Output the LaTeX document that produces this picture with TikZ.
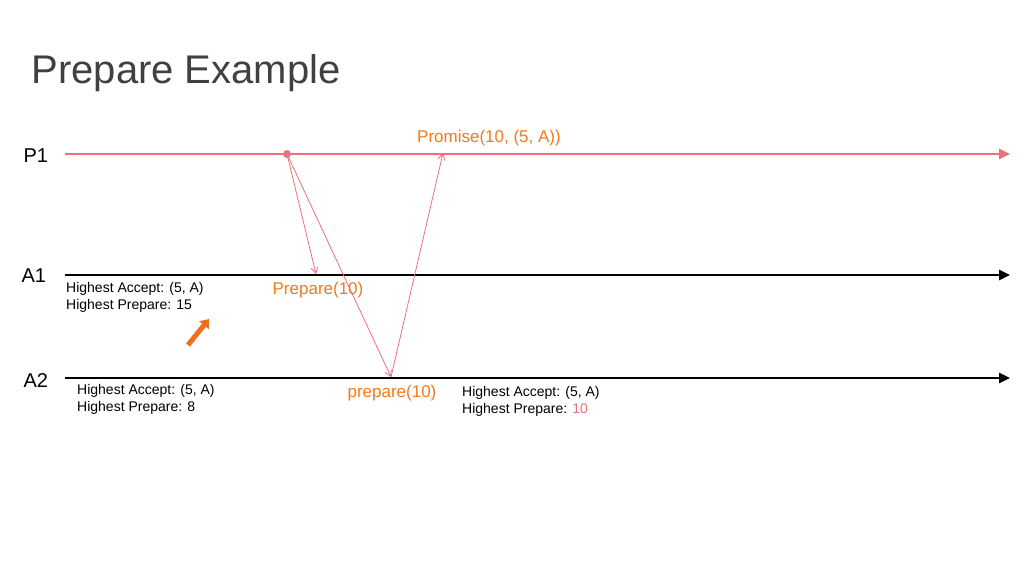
\documentclass[tikz,border=0pt]{standalone}
\usepackage{fontspec}
\setmainfont{Liberation Sans}
\usetikzlibrary{arrows.meta}
\definecolor{pinkline}{HTML}{EC6F7C}
\definecolor{orangetext}{HTML}{F07A1E}
\definecolor{titlegray}{HTML}{404040}
\begin{document}
\begin{tikzpicture}[x=1pt,y=-1pt,
    timeline/.style={line width=2.6pt,-{Triangle[length=11pt,width=10pt]}},
    msg/.style={pinkline,line width=0.8pt,-{Straight Barb[length=6pt,width=7pt]}},
    proc/.style={font=\fontsize{20}{22}\selectfont,anchor=west},
    info/.style={font=\fontsize{14}{17}\selectfont,align=left,anchor=north west,inner sep=0pt},
    label/.style={orangetext,font=\fontsize{17}{20}\selectfont}]
  \useasboundingbox (0,0) rectangle (1024,576);

  \node[titlegray,font=\fontsize{40}{44}\selectfont,anchor=west] (title) at (28,73) {Prepare Example};

  % process lines
  \coordinate (p1s) at (65,154);  \coordinate (p1e) at (1010,154);
  \coordinate (a1s) at (65,275);  \coordinate (a1e) at (1010,275);
  \coordinate (a2s) at (65,378);  \coordinate (a2e) at (1010,378);
  \draw[timeline,pinkline] (p1s) -- (p1e);
  \draw[timeline] (a1s) -- (a1e);
  \draw[timeline] (a2s) -- (a2e);
  \node[proc] (p1) at (20,156) {P1};
  \node[proc] (a1) at (18,276) {A1};
  \node[proc] (a2) at (20,381) {A2};

  % messages
  \coordinate (send) at (287,154);
  \coordinate (recv1) at (316,274);
  \coordinate (recv2) at (391,377);
  \coordinate (reply) at (443,153);
  \fill[pinkline] (send) circle (4pt);
  \draw[msg] (send) -- (recv1);
  \draw[msg] (send) -- (recv2);
  \draw[msg] (recv2) -- (reply);

  \node[label] (promise) at (489,138) {Promise(10, (5, A))};
  \node[label] (prep1) at (318,290) {Prepare(10)};
  \node[label] (prep2) at (392,393) {prepare(10)};

  % acceptor state
  \node[info] (st1) at (66,282) {Highest Accept: (5, A)\\Highest Prepare: 15};
  \node[info] (st2) at (77,384) {Highest Accept: (5, A)\\Highest Prepare: 8};
  \node[info] (st3) at (462,386) {Highest Accept: (5, A)\\Highest Prepare: \textcolor{pinkline}{10}};

  % marker
  \coordinate (mk1) at (188,345);
  \coordinate (mk2) at (209,319);
  \draw[orangetext!90!red,line width=5pt,-{Triangle[length=8pt,width=12pt]}] (mk1) -- (mk2);
\end{tikzpicture}
\end{document}
